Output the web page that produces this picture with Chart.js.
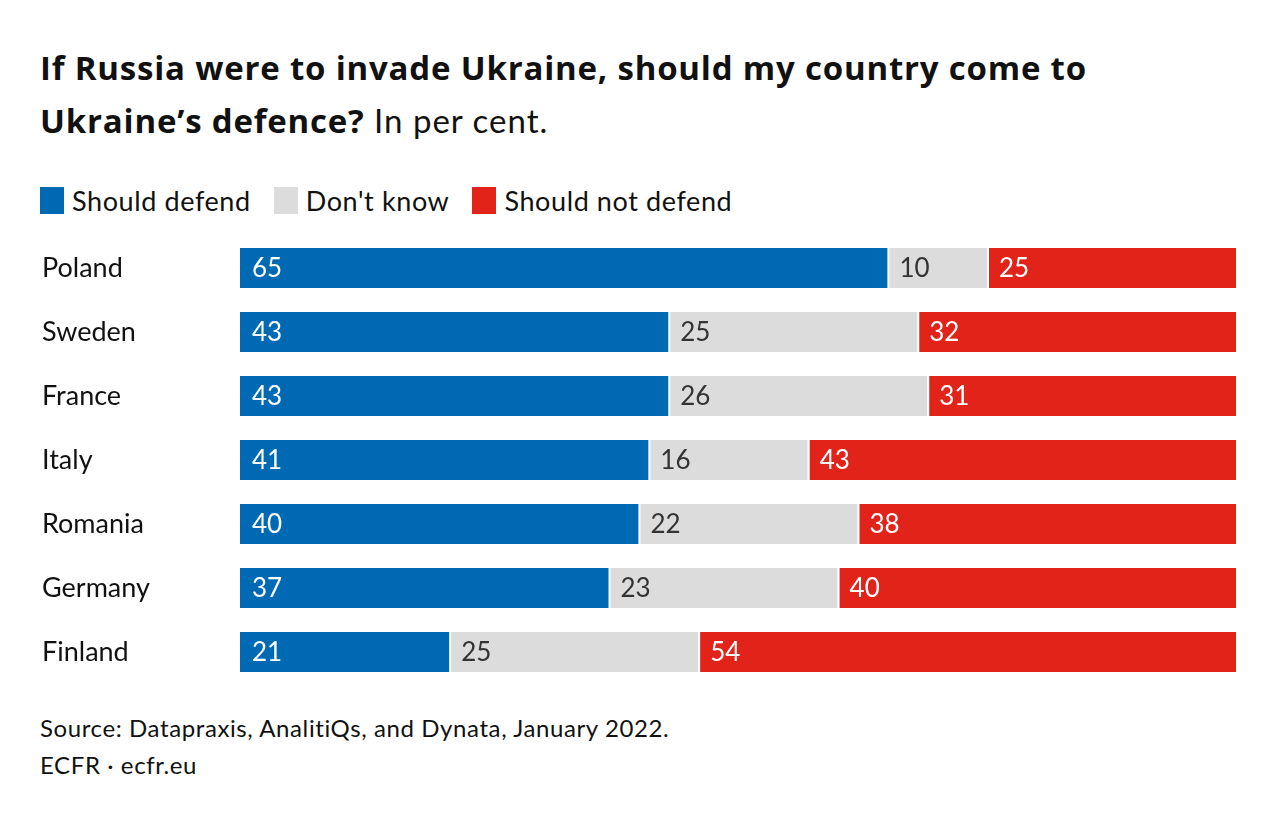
<!DOCTYPE html>
<html>
<head>
<meta charset="utf-8">
<script src="https://cdn.jsdelivr.net/npm/chart.js@4"></script>
<style>
  body { margin: 0; background: #fff; font-family: Lato, sans-serif; color: #111; }
  #page { position: relative; width: 1280px; height: 824px; overflow: hidden; }
  #title { position: absolute; left: 40px; top: 42px; width: 1230px; font-family: 'Open Sans', sans-serif; font-size: 33px; line-height: 52px; font-weight: 700; letter-spacing: 0.8px; }
  #title span { font-weight: 400; font-family: Lato, sans-serif; letter-spacing: 1px; }
  #legend { position: absolute; left: 40px; top: 184px; font-size: 27px; letter-spacing: 0.6px; display: flex; align-items: center; }
  #legend .item { display: flex; align-items: center; margin-right: 23px; }
  #legend .box { width: 24px; height: 27px; margin-right: 8px; }
  #chartWrap { position: absolute; left: 0; top: 236px; width: 1280px; height: 448px; }
  #source { position: absolute; left: 40px; top: 709px; font-size: 24px; letter-spacing: 0.6px; line-height: 37px; }
</style>
</head>
<body>
<div id="page">
  <div id="title">If Russia were to invade Ukraine, should my country come to<br>Ukraine’s defence? <span>In per cent.</span></div>
  <div id="legend"></div>
  <div id="chartWrap"><canvas id="chart"></canvas></div>
  <div id="source">Source: Datapraxis, AnalitiQs, and Dynata, January 2022.<br>ECFR · ecfr.eu</div>
</div>
<script>
// Data
const countries = ['Poland', 'Sweden', 'France', 'Italy', 'Romania', 'Germany', 'Finland'];
const shouldDefend = [65, 43, 43, 41, 40, 37, 21];
const dontKnow = [10, 25, 26, 16, 22, 23, 25];
const shouldNotDefend = [25, 32, 31, 43, 38, 40, 54];

const seriesNames = ['Should defend', "Don't know", 'Should not defend'];
const seriesColors = ['#0069b4', '#dcdcdc', '#e2231a'];
const labelColors = ['#ffffff', '#333333', '#ffffff'];

// HTML legend
const legendEl = document.getElementById('legend');
seriesNames.forEach((name, i) => {
    const item = document.createElement('div');
    item.className = 'item';
    item.innerHTML = `<div class="box" style="background:${seriesColors[i]}"></div><div>${name}</div>`;
    legendEl.appendChild(item);
});

// Draw the value inside each segment, near its left edge
const valueLabels = {
    id: 'valueLabels',
    afterDatasetsDraw(chart) {
        const ctx = chart.ctx;
        ctx.save();
        ctx.font = '26px Lato, sans-serif';
        ctx.textBaseline = 'middle';
        ctx.textAlign = 'left';
        chart.data.datasets.forEach((ds, i) => {
            chart.getDatasetMeta(i).data.forEach((bar, j) => {
                ctx.fillStyle = labelColors[i];
                ctx.fillText(ds.data[j], bar.base + 12, bar.y + 1);
            });
        });
        ctx.restore();
    }
};

const gap = { left: 2, right: 0, top: 0, bottom: 0 };

new Chart(document.getElementById('chart'), {
    type: 'bar',
    data: {
        labels: countries,
        datasets: [
            { label: seriesNames[0], data: shouldDefend, backgroundColor: seriesColors[0], borderWidth: 0 },
            { label: seriesNames[1], data: dontKnow, backgroundColor: seriesColors[1], borderColor: '#fff', borderWidth: gap, borderSkipped: false },
            { label: seriesNames[2], data: shouldNotDefend, backgroundColor: seriesColors[2], borderColor: '#fff', borderWidth: gap, borderSkipped: false }
        ]
    },
    options: {
        indexAxis: 'y',
        responsive: true,
        maintainAspectRatio: false,
        animation: false,
        barPercentage: 1,
        categoryPercentage: 0.625,
        layout: { padding: { left: 42, right: 44, top: 0, bottom: 0 } },
        scales: {
            x: { stacked: true, min: 0, max: 100, display: false },
            y: {
                stacked: true,
                grid: { display: false },
                border: { display: false },
                ticks: { color: '#111', font: { family: 'Lato, sans-serif', size: 27 }, crossAlign: 'far', padding: 0 },
                afterFit(axis) {
                    axis.width = 198;
                    axis.paddingTop = 0;
                    axis.paddingBottom = 0;
                }
            }
        },
        plugins: {
            legend: { display: false },
            tooltip: { enabled: false }
        }
    },
    plugins: [valueLabels]
});
</script>
</body>
</html>
